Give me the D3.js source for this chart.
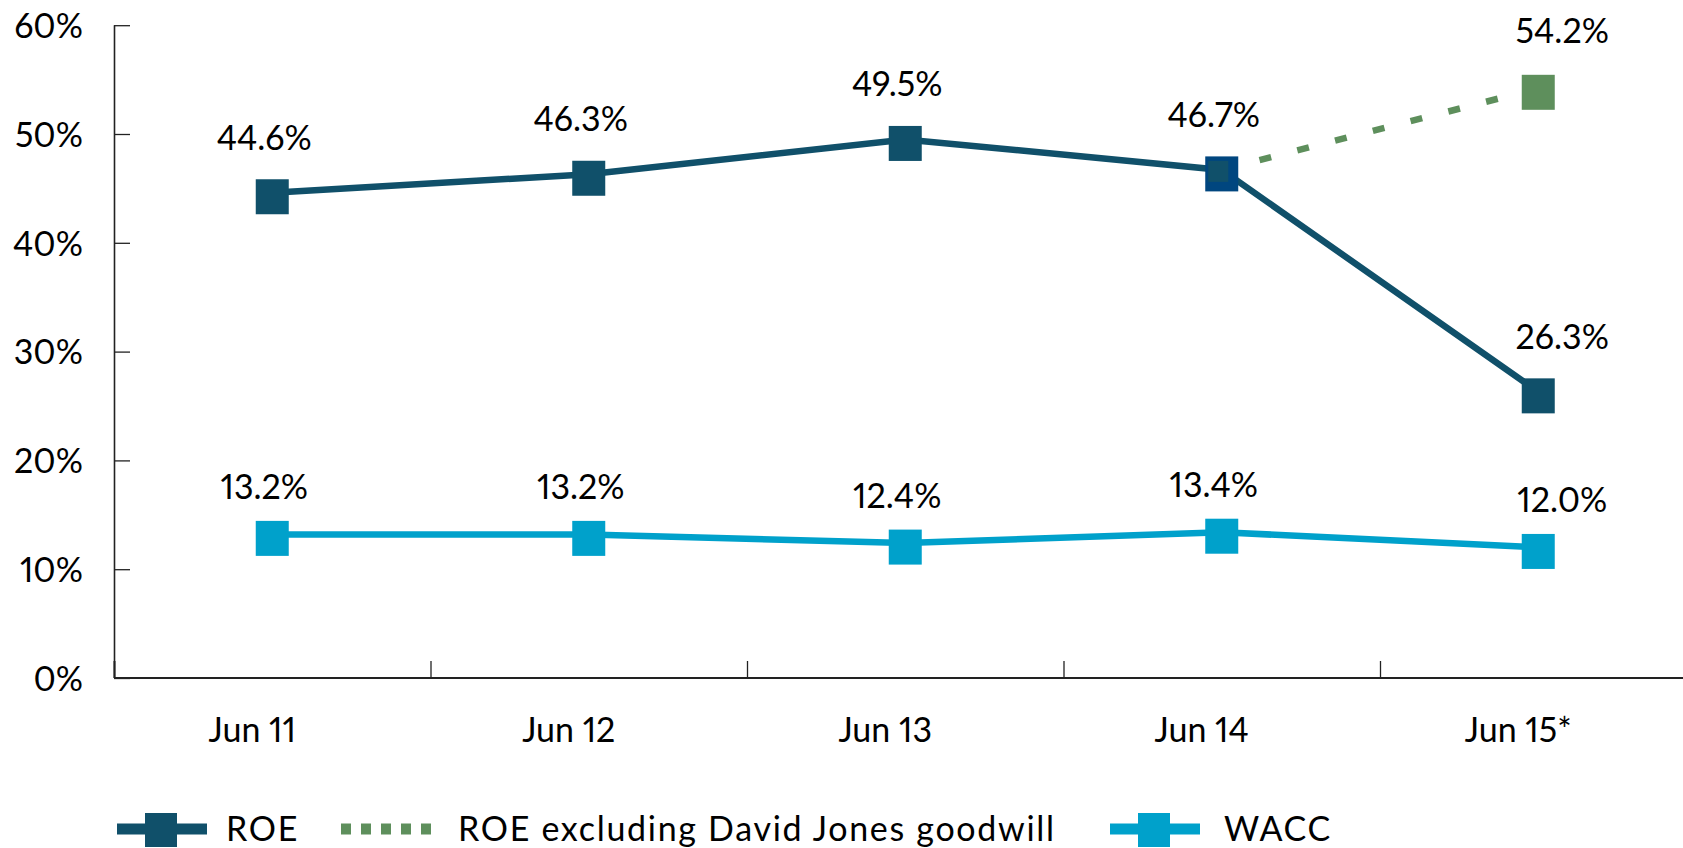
<!DOCTYPE html>
<html>
<head>
<meta charset="utf-8">
<script src="https://d3js.org/d3.v7.min.js"></script>
<style>
    body{margin:0;background:#fff;}
    text{font-family:Lato, "Noto Sans", sans-serif;font-variant-numeric:proportional-nums;fill:#000;}
</style>
</head>
<body>
<div id="roePlot"></div>
<script>
//Chart values
const categories = ['Jun 11', 'Jun 12', 'Jun 13', 'Jun 14', 'Jun 15*']
const roe = [44.6, 46.3, 49.5, 46.7, 26.3]
//only the last two years have a value for this one
const roeExGoodwill = [null, null, null, 46.7, 54.2]
const wacc = [13.2, 13.2, 12.4, 13.4, 12.0]
const yTicks = [0, 10, 20, 30, 40, 50, 60]
const legendNames = ['ROE', 'ROE excluding David Jones goodwill', 'WACC']

class roePlot{
    constructor(){
        this.svgDim = {width:1683, height:848}
        this.plot = {left:114, top:25.2, bottom:678, band:316.5}
        this.colors = {roe:'#10506a', green:'#5e8f5c', wacc:'#00a1cb', edge:'#00467f'}
        this.fontSize = 34
    }

    createPlot(){
        //SVG to add plot to
        this.svg = d3.select('#roePlot')
            .append('svg')
            .attr('id','plotSvg')
            .attr('width',this.svgDim.width)
            .attr('height',this.svgDim.height)

        //Category scale, the last band runs past the right edge of the window
        this.xScale = d3.scaleBand()
            .domain(categories)
            .range([this.plot.left, this.plot.left + categories.length*this.plot.band])
            .padding(0)

        this.yScale = d3.scaleLinear()
            .domain([0, 60])
            .range([this.plot.bottom, this.plot.top])

        //Y axis, ticks point inwards
        var yAxis = d3.axisRight(this.yScale)
            .tickValues(yTicks)
            .tickSize(16)
            .tickFormat(d => d + '%')

        var yG = this.svg.append('g')
            .attr('id','yAxis')
            .attr('transform',`translate(${this.plot.left},0)`)
            .call(yAxis)
        yG.select('.domain').attr('d', `M0.5,${this.plot.top}V${this.plot.bottom}`)
        yG.selectAll('.tick line').attr('stroke','#222').attr('stroke-width',1.3)
        yG.selectAll('.tick text')
            .attr('x',-31)
            .attr('dy','0.36em')
            .attr('text-anchor','end')
            .attr('font-size',this.fontSize)
            .attr('fill','#000')

        //X axis, ticks sit on the band edges and point up
        var xAxis = d3.axisBottom(this.xScale)
            .tickSize(0)
        var xG = this.svg.append('g')
            .attr('id','xAxis')
            .attr('transform',`translate(0,${this.plot.bottom})`)
            .call(xAxis)
        xG.select('.domain').remove()
        xG.selectAll('.tick text')
            .attr('y',64)
            .attr('dy',0)
            .attr('dx',-20)
            .attr('font-size',this.fontSize)
            .attr('fill','#000')

        //axis lines
        this.svg.append('line')
            .attr('x1',this.plot.left).attr('x2',this.svgDim.width)
            .attr('y1',this.plot.bottom).attr('y2',this.plot.bottom)
            .attr('stroke','#222').attr('stroke-width',2)
        this.svg.select('#yAxis .domain').attr('stroke','#222').attr('stroke-width',1.6)

        var edges = categories.map(d => this.xScale(d))
        this.svg.append('g')
            .attr('id','xTicks')
            .selectAll('line')
            .data(edges)
            .enter()
            .append('line')
            .attr('x1', d => d + 0.5).attr('x2', d => d + 0.5)
            .attr('y1', this.plot.bottom - 17).attr('y2', this.plot.bottom)
            .attr('stroke','#222').attr('stroke-width', (d,i) => i == 0 ? 2 : 1.3)
    }

    drawPlot(){
        var xc = i => this.xScale(categories[i]) + this.xScale.bandwidth()/2
        var yc = v => this.yScale(v)

        var line = d3.line()
            .defined(d => d[1] != null)
            .x(d => xc(d[0]))
            .y(d => yc(d[1]))

        var toPts = arr => arr.map((v,i) => [i, v])

        //Dashed green line first so the ROE marker sits over its start
        this.svg.append('path')
            .attr('d', line(toPts(roeExGoodwill)))
            .attr('fill','none')
            .attr('stroke',this.colors.green)
            .attr('stroke-width',6.5)
            .attr('stroke-dasharray','12,27')

        this.svg.append('path')
            .attr('d', line(toPts(roe)))
            .attr('fill','none')
            .attr('stroke',this.colors.roe)
            .attr('stroke-width',6.5)

        this.svg.append('path')
            .attr('d', line(toPts(wacc)))
            .attr('fill','none')
            .attr('stroke',this.colors.wacc)
            .attr('stroke-width',6.5)

        //Square markers, they sit a bit lower than the line points in the picture
        var markers = (arr, color, cls) => {
            this.svg.append('g')
                .attr('class',cls)
                .selectAll('rect')
                .data(toPts(arr).filter(d => d[1] != null))
                .enter()
                .append('rect')
                .attr('x', d => xc(d[0]) - 16.5)
                .attr('y', d => yc(d[1]) - 13.5)
                .attr('width',33)
                .attr('height',35)
                .attr('fill', typeof color === 'function' ? color : () => color)
        }
        markers(wacc, this.colors.wacc, 'waccMarks')
        markers(roeExGoodwill, d => d[0] == 3 ? this.colors.edge : this.colors.green, 'greenMarks')

        //ROE marks, the shared Jun 14 point is smaller so the blue frame shows
        this.svg.append('g')
            .attr('class','roeMarks')
            .selectAll('rect')
            .data(toPts(roe))
            .enter()
            .append('rect')
            .attr('x', d => xc(d[0]) - (d[0] == 3 ? 13.5 : 16.5))
            .attr('y', d => yc(d[1]) - (d[0] == 3 ? 9 : 13.5))
            .attr('width', d => d[0] == 3 ? 20 : 33)
            .attr('height', d => d[0] == 3 ? 21 : 35)
            .attr('fill',this.colors.roe)

        //Value labels
        var labels = (arr, lift, cls) => {
            this.svg.append('g')
                .attr('class',cls)
                .selectAll('text')
                .data(toPts(arr).filter(d => d[1] != null))
                .enter()
                .append('text')
                .attr('x', d => xc(d[0]) + (d[0] == 4 ? 24 : -8))
                .attr('y', d => yc(d[1]) - lift)
                .attr('text-anchor','middle')
                .attr('font-size',this.fontSize)
                .text(d => d[1].toFixed(1) + '%')
        }
        labels(roe, 43, 'roeLabels')
        labels([null, null, null, null, roeExGoodwill[4]], 45, 'greenLabels')
        labels(wacc, 35, 'waccLabels')
    }

    drawLegend(){
        var ly = 829
        var items = [
            {name:legendNames[0], color:this.colors.roe, x:117, dash:null, text:226},
            {name:legendNames[1], color:this.colors.green, x:341, dash:'10,10', text:458},
            {name:legendNames[2], color:this.colors.wacc, x:1110, dash:null, text:1224}
        ]
        var lg = this.svg.append('g').attr('id','legend')
        items.forEach(d => {
            lg.append('line')
                .attr('x1',d.x).attr('x2',d.x + 90)
                .attr('y1',ly).attr('y2',ly)
                .attr('stroke',d.color)
                .attr('stroke-width',11)
                .attr('stroke-dasharray',d.dash)
            if(!d.dash){
                lg.append('rect')
                    .attr('x',d.x + 28).attr('y',ly - 16)
                    .attr('width',32).attr('height',34)
                    .attr('fill',d.color)
            }
            lg.append('text')
                .attr('x',d.text)
                .attr('y',ly + 12)
                .attr('font-size',this.fontSize)
                .attr('letter-spacing',1.7)
                .text(d.name)
        })
    }
}

var chart = new roePlot()
chart.createPlot()
chart.drawPlot()
chart.drawLegend()
</script>
</body>
</html>
